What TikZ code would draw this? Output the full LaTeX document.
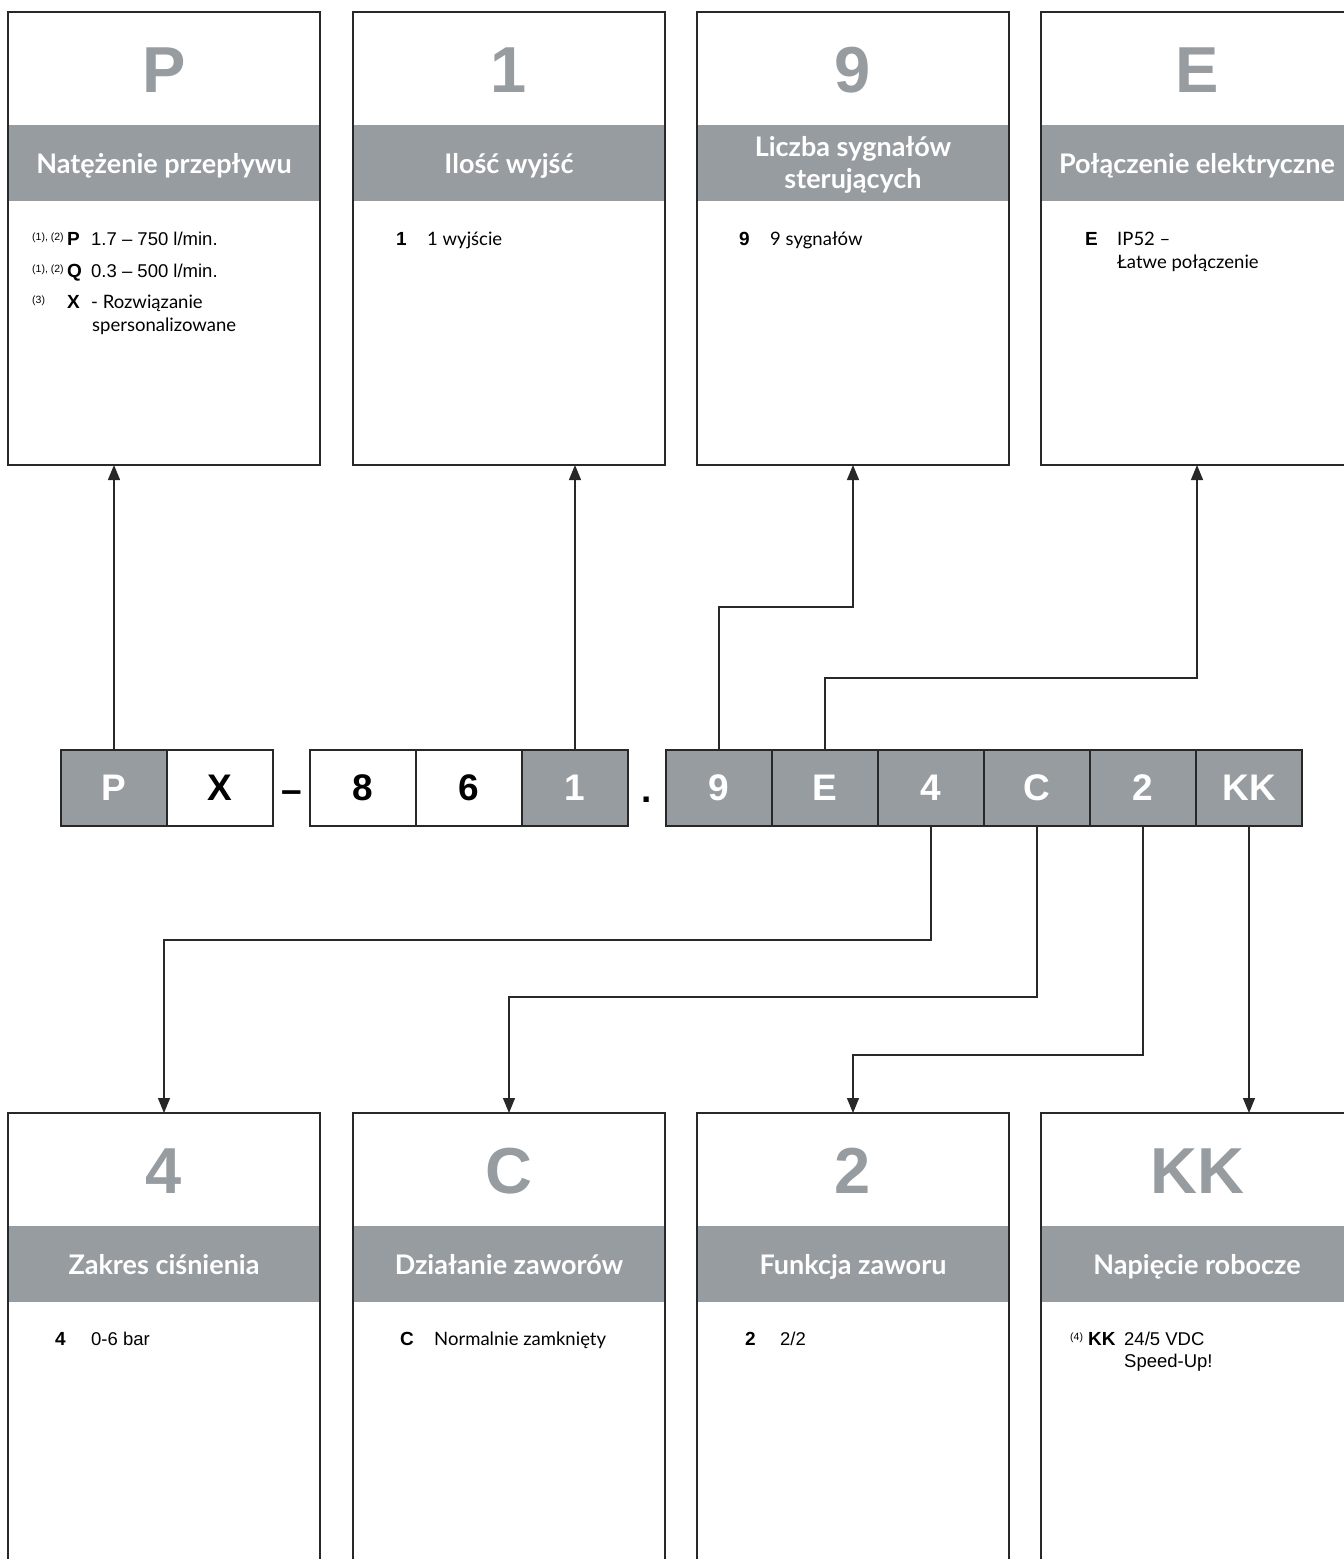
\documentclass[tikz,border=0pt]{standalone}
\usepackage{fontspec}
\setmainfont{Liberation Sans}
\newfontfamily\lato{Lato}
\usetikzlibrary{arrows.meta}
\definecolor{grayc}{RGB}{151,156,161}
\definecolor{linec}{RGB}{40,40,40}
\tikzset{
 box/.style={draw=linec, line width=1.3pt, minimum width=312pt, minimum height=453pt, anchor=north west, inner sep=0pt, outer sep=0pt},
 band/.style={fill=grayc, minimum width=312pt, minimum height=76pt, anchor=north west, inner sep=0pt, outer sep=0pt},
 big/.style={text=grayc, font=\fontsize{65}{65}\selectfont\bfseries, anchor=base, inner sep=0pt},
 head/.style={text=white, font=\lato\bfseries\fontsize{27}{32}\selectfont, anchor=base, inner sep=0pt},
 cellg/.style={draw=linec, line width=1.3pt, fill=grayc, minimum width=106pt, minimum height=76pt, inner sep=0pt, outer sep=0pt, text=white, font=\fontsize{37}{37}\selectfont\bfseries},
 cellw/.style={cellg, fill=white, text=black},
 sep/.style={anchor=base, inner sep=0pt, font=\fontsize{37}{37}\selectfont\bfseries},
 key/.style={anchor=base west, inner sep=0pt, font=\fontsize{19}{22}\selectfont\bfseries},
 txt/.style={anchor=base west, inner sep=0pt, font=\fontsize{18.5}{22}\selectfont},
 ltxt/.style={anchor=base west, inner sep=0pt, font=\lato\fontsize{18.5}{23}\selectfont},
 supx/.style={anchor=base west, inner sep=0pt, font=\fontsize{10.5}{12}\selectfont},
 arr/.style={draw=linec, line width=1.3pt, -{Triangle[length=15pt,width=12pt]}},
}
\begin{document}
\begin{tikzpicture}[x=1pt,y=-1pt]
\clip (0,0) rectangle (1344,1559);
\fill[white] (0,0) rectangle (1344,1559);
% ---------- top boxes ----------
\node[band] (h1) at (8,125) {};
\node[band] (h2) at (353,125) {};
\node[band] (h3) at (697,125) {};
\node[band] (h4) at (1041,125) {};
\node[box] (b1) at (8,12) {};
\node[box] (b2) at (353,12) {};
\node[box] (b3) at (697,12) {};
\node[box] (b4) at (1041,12) {};
\node[big] (g1) at (164,92) {P};
\node[big] (g2) at (509,92) {1};
\node[big] (g3) at (853,92) {9};
\node[big] (g4) at (1197,92) {E};
\node[head] (t1) at (164,173) {Natężenie przepływu};
\node[head] (t2) at (509,173) {Ilość wyjść};
\node[head] (t3a) at (853,156) {Liczba sygnałów};
\node[head] (t3b) at (853,188) {sterujących};
\node[head] (t4) at (1197,173) {Połączenie elektryczne};
% box 1 body
\node[supx] (s11) at (32,240) {(1), (2)};
\node[key] (k11) at (67,245) {P};
\node[txt] (x11) at (91,245) {1.7 – 750 l/min.};
\node[supx] (s12) at (32,272) {(1), (2)};
\node[key] (k12) at (67,277) {Q};
\node[txt] (x12) at (91,277) {0.3 – 500 l/min.};
\node[supx] (s13) at (32,303) {(3)};
\node[key] (k13) at (67,308) {X};
\node[ltxt] (x13) at (91,308) {- Rozwiązanie};
\node[ltxt] (x14) at (92,331) {spersonalizowane};
% box 2 body
\node[key] (k21) at (396,245) {1};
\node[ltxt] (x21) at (427,245) {1 wyjście};
% box 3 body
\node[key] (k31) at (739,245) {9};
\node[ltxt] (x31) at (770,245) {9 sygnałów};
% box 4 body
\node[key] (k41) at (1085,245) {E};
\node[ltxt] (x41) at (1117,245) {IP52 –};
\node[ltxt] (x42) at (1117,268) {Łatwe połączenie};
% ---------- code row ----------
\node[cellg] (cP) at (114,788) {P};
\node[cellw] (cX) at (220,788) {X};
\node[sep] (dash) at (292,802) {–};
\node[cellw] (c8) at (363,788) {8};
\node[cellw] (c6) at (469,788) {6};
\node[cellg] (c1) at (575,788) {1};
\node[sep] (dot) at (647,802) {.};
\node[cellg] (c9) at (719,788) {9};
\node[cellg] (cE) at (825,788) {E};
\node[cellg] (c4) at (931,788) {4};
\node[cellg] (cC) at (1037,788) {C};
\node[cellg] (c2) at (1143,788) {2};
\node[cellg] (cKK) at (1249,788) {KK};
% ---------- bottom boxes ----------
\node[band] (e1) at (8,1226) {};
\node[band] (e2) at (353,1226) {};
\node[band] (e3) at (697,1226) {};
\node[band] (e4) at (1041,1226) {};
\node[box] (d1) at (8,1113) {};
\node[box] (d2) at (353,1113) {};
\node[box] (d3) at (697,1113) {};
\node[box] (d4) at (1041,1113) {};
\node[big] (f1) at (164,1193) {4};
\node[big] (f2) at (509,1193) {C};
\node[big] (f3) at (853,1193) {2};
\node[big] (f4) at (1197,1193) {KK};
\node[head] (u1) at (164,1274) {Zakres ciśnienia};
\node[head] (u2) at (509,1274) {Działanie zaworów};
\node[head] (u3) at (853,1274) {Funkcja zaworu};
\node[head] (u4) at (1197,1274) {Napięcie robocze};
\node[key] (m11) at (55,1345) {4};
\node[txt] (y11) at (91,1345) {0-6 bar};
\node[key] (m21) at (400,1345) {C};
\node[ltxt] (y21) at (434,1345) {Normalnie zamknięty};
\node[key] (m31) at (745,1345) {2};
\node[txt] (y31) at (780,1345) {2/2};
\node[supx] (s41) at (1070,1340) {(4)};
\node[key] (m41) at (1088,1345) {KK};
\node[txt] (y41) at (1124,1345) {24/5 VDC};
\node[txt] (y42) at (1124,1367) {Speed-Up!};
% ---------- connectors ----------
\coordinate (l9) at (0,607);
\coordinate (lE) at (0,678);
\coordinate (l4) at (0,940);
\coordinate (lC) at (0,997);
\coordinate (l2) at (0,1055);
\draw[arr] (cP.north) -- (cP.north |- b1.south);
\draw[arr] (c1.north) -- (c1.north |- b2.south);
\draw[arr] (c9.north) -- (c9.north |- l9) -| (b3.south);
\draw[arr] (cE.north) -- (cE.north |- lE) -| (b4.south);
\draw[arr] (c4.south) -- (c4.south |- l4) -| (d1.north);
\draw[arr] (cC.south) -- (cC.south |- lC) -| (d2.north);
\draw[arr] (c2.south) -- (c2.south |- l2) -| (d3.north);
\draw[arr] (cKK.south) -- (cKK.south |- d4.north);
\end{tikzpicture}
\end{document}
